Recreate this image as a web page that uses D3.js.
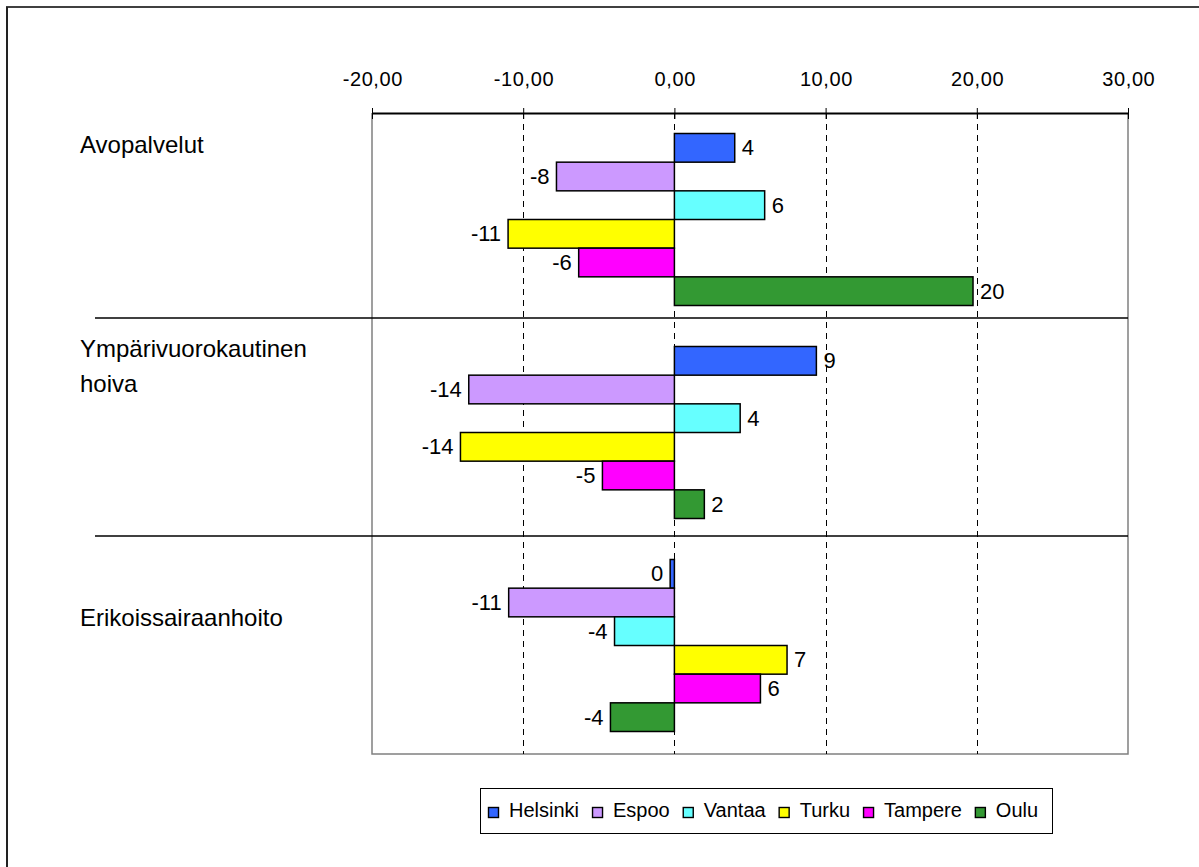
<!DOCTYPE html>
<html>
<head>
<meta charset="utf-8">
<script src="https://cdn.jsdelivr.net/npm/d3@7"></script>
<style>
  html, body { margin: 0; padding: 0; background: #fff; }
  svg { display: block; font-family: "Liberation Sans", Arial, sans-serif; }
</style>
</head>
<body>
<svg id="chart" width="1199" height="867"></svg>
<script>
// ---- data ----
const categories = ["Avopalvelut", "Ympärivuorokautinen hoiva", "Erikoissairaanhoito"];
const seriesNames = ["Helsinki", "Espoo", "Vantaa", "Turku", "Tampere", "Oulu"];
const helsinki = [3.99, 9.39, -0.28];
const espoo    = [-7.8, -13.6, -10.96];
const vantaa   = [5.97, 4.35, -3.96];
const turku    = [-11.0, -14.15, 7.45];
const tampere  = [-6.33, -4.76, 5.69];
const oulu     = [19.75, 1.98, -4.23];
const tickValues = [-20, -10, 0, 10, 20, 30];
const seriesColors = ["#3366FF", "#CC99FF", "#66FFFF", "#FFFF00", "#FF00FF", "#339933"];

const seriesValues = [helsinki, espoo, vantaa, turku, tampere, oulu];

const svg = d3.select("#chart");
const W = 1199, H = 867;

// outer frame (only top & left visible)
svg.append("line").attr("x1", 6).attr("x2", W + 5).attr("y1", 7).attr("y2", 7)
  .attr("stroke", "#000").attr("stroke-width", 1.5);
svg.append("line").attr("x1", 7).attr("x2", 7).attr("y1", 7).attr("y2", H + 5)
  .attr("stroke", "#222").attr("stroke-width", 2);

const plot = { left: 372, right: 1128, top: 113, bottom: 752 };

const x = d3.scaleLinear().domain([-20, 30]).range([plot.left, plot.right]);
const pad = 0.1925;
const y = d3.scaleBand().domain(categories).range([plot.top, plot.bottom])
  .paddingInner(pad).paddingOuter(pad / 2);
const ySub = d3.scaleBand().domain(seriesNames).range([0, y.bandwidth()]).padding(0);

const loc = d3.formatLocale({ decimal: ",", thousands: " ", grouping: [3], currency: ["", "€"], minus: "-" });
const tickFmt = loc.format(".2f");

// plot area border (grey)
svg.append("path")
  .attr("d", `M${plot.left},${plot.top}V${plot.bottom + 2}H${plot.right}V${plot.top}`)
  .attr("fill", "none").attr("stroke", "#808080").attr("stroke-width", 1.5);

// gridlines
svg.append("g").selectAll("line")
  .data(tickValues.filter(t => t > -20 && t < 30))
  .join("line")
  .attr("x1", d => Math.round(x(d)) + 0.5).attr("x2", d => Math.round(x(d)) + 0.5)
  .attr("y1", plot.top).attr("y2", plot.bottom + 2)
  .attr("stroke", "#000").attr("stroke-width", 1).attr("stroke-dasharray", "6,5");

// top axis
const axis = d3.axisTop(x).tickValues(tickValues).tickFormat(tickFmt).tickSizeInner(5).tickSizeOuter(0);
const gAxis = svg.append("g").attr("transform", `translate(0,${plot.top})`).call(axis);
gAxis.select(".domain").attr("stroke", "#000").attr("stroke-width", 2.2);
gAxis.selectAll(".tick line").attr("stroke", "#000").attr("y2", -5);
gAxis.selectAll(".tick").append("line").attr("y1", 0).attr("y2", 6).attr("stroke", "#000");
gAxis.selectAll(".tick text")
  .attr("y", -27).attr("dy", 0)
  .attr("dx", 0.3)
  .style("font-size", "20px").style("letter-spacing", "0.6px")
  .attr("fill", "#000").attr("font-family", "Liberation Sans, Arial, sans-serif");

// group dividers
const dividerYs = [318, 536];
svg.append("g").selectAll("line").data(dividerYs).join("line")
  .attr("x1", 95).attr("x2", plot.right).attr("y1", d => d).attr("y2", d => d)
  .attr("stroke", "#000").attr("stroke-width", 1.6);

// bars
const rows = [];
categories.forEach((c, ci) => {
  seriesNames.forEach((s, si) => {
    rows.push({ cat: c, series: s, value: seriesValues[si][ci], color: seriesColors[si] });
  });
});

const gBars = svg.append("g");
gBars.selectAll("rect").data(rows).join("rect")
  .attr("x", d => Math.min(x(0), x(d.value)))
  .attr("width", d => Math.abs(x(d.value) - x(0)))
  .attr("y", d => y(d.cat) + ySub(d.series))
  .attr("height", ySub.bandwidth())
  .attr("fill", d => d.color)
  .attr("stroke", "#000").attr("stroke-width", 1.5);

// data labels
const labelText = v => String(Math.round(v)).replace("−", "-");
gBars.selectAll("text").data(rows).join("text")
  .attr("x", d => d.value >= 0 ? x(d.value) + 7 : x(d.value) - 7)
  .attr("y", d => y(d.cat) + ySub(d.series) + ySub.bandwidth() / 2 + 7.5)
  .attr("text-anchor", d => d.value >= 0 ? "start" : "end")
  .style("font-size", "22px").attr("fill", "#000")
  .text(d => labelText(d.value));

// category labels
const catLines = { "Avopalvelut": ["Avopalvelut"],
  "Ympärivuorokautinen hoiva": ["Ympärivuorokautinen", "hoiva"],
  "Erikoissairaanhoito": ["Erikoissairaanhoito"] };
const catOffsets = { "Avopalvelut": -67, "Ympärivuorokautinen hoiva": -76, "Erikoissairaanhoito": -20 };
const gCat = svg.append("g");
categories.forEach(c => {
  const t = gCat.append("text")
    .attr("x", 80)
    .attr("y", y(c) + y.bandwidth() / 2 + catOffsets[c])
    .style("font-size", "24px").attr("fill", "#000");
  catLines[c].forEach((ln, i) => {
    t.append("tspan").attr("x", 80).attr("dy", i === 0 ? 0 : 35).text(ln);
  });
});

// legend
const legend = svg.append("g");
const lgBox = legend.append("rect")
  .attr("x", 480.5).attr("y", 788.5).attr("height", 45)
  .attr("fill", "#fff").attr("stroke", "#000").attr("stroke-width", 1);
let lx = 488;
seriesNames.forEach((s, i) => {
  legend.append("rect").attr("x", lx + 0.5).attr("y", 807.5).attr("width", 10).attr("height", 10)
    .attr("fill", seriesColors[i]).attr("stroke", "#000").attr("stroke-width", 1.4);
  const t = legend.append("text").attr("x", lx + 21).attr("y", 817)
    .style("font-size", "20px").attr("fill", "#000").text(s);
  lx = lx + 21 + t.node().getComputedTextLength() + 13;
});
lgBox.attr("width", Math.max(lx - 2 - 480, 572));
</script>
</body>
</html>
